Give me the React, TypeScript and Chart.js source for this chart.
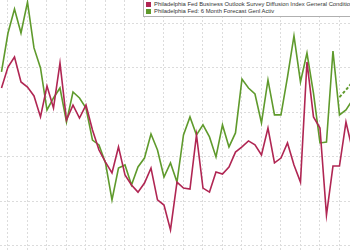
import React, { useEffect, useRef } from "react";
import { Chart, registerables } from "chart.js";

Chart.register(...registerables);

const legendLabels = [
  "Philadelphia Fed Business Outlook Survey Diffusion Index General Conditions",
  "Philadelphia Fed: 6 Month Forecast Genl Activ",
];

const generalConditions = [
  30.8, 40.2, 44.7, 33.5, 31.2, 27.2, 17.8, 31.7, 21.8, 42.0,
  16.4, 23.1, 17.3, 23.1, 11.9, 2.9, -2.5, -7.4, 4.3, -8.3,
  -12.8, -16.0, -11.9, -5.2, -19.5, -21.8, -33.0, -11.5, -14.2, -14.6,
  9.7, -14.2, -16.0, -7.0, -7.9, -4.7, 2.0, 4.3, 7.0, 5.2,
  0.7, 12.8, -2.9, -0.7, 6.1, -3.8, -11.5, 42.5, 17.8, 12.8,
  -26.3, -4.3, -4.3, 15.5, 2.9,
];

const forecastActivity = [
  38.0, 55.5, 66.3, 55.5, 69.4, 48.8, 39.8, 20.9, 26.3, 30.8,
  15.5, 29.0, 26.3, 21.8, 7.4, 5.2, -2.9, -19.5, -5.2, -3.8,
  -12.8, -4.7, -0.7, 10.1, 2.9, -9.2, -2.9, -11.5, 9.7, 17.8,
  9.7, 14.2, 8.8, -0.2, 14.2, 4.3, 10.6, 34.8, 30.8, 28.1,
  15.1, 34.4, 18.7, 18.7, 35.7, 54.2, 33.5, 46.5, 28.5, 6.1,
  6.5, 47.4, 18.7, 20.9, 25.4,
];

const forecastDashed: (number | null)[] = [
  ...Array(52).fill(null), 26.7, 29.9, 33.5,
];

const yTicks = [-40, -20, 0, 20, 40, 60];
const xTicks = [1, 4, 7, 10, 13, 16, 19, 22, 25, 28, 31, 34, 37, 40, 43, 46, 49, 52];

const RED = "#b02653";
const GREEN = "#5f9a2c";

export default function App() {
  const ref = useRef<HTMLCanvasElement | null>(null);

  useEffect(() => {
    if (!ref.current) return;
    const toPts = (arr: (number | null)[]) =>
      arr.map((v, i) => ({ x: i, y: v as number }));
    const chart = new Chart(ref.current, {
      type: "line",
      data: {
        datasets: [
          {
            label: legendLabels[0],
            data: toPts(generalConditions),
            borderColor: RED,
            borderWidth: 1.6,
            pointRadius: 0,
            tension: 0,
          },
          {
            label: legendLabels[1],
            data: toPts(forecastActivity),
            borderColor: GREEN,
            borderWidth: 1.6,
            pointRadius: 0,
            tension: 0,
          },
          {
            label: "forecast",
            data: toPts(forecastDashed),
            borderColor: GREEN,
            borderWidth: 2,
            borderDash: [3, 2],
            pointRadius: 0,
            tension: 0,
            spanGaps: false,
          },
        ],
      },
      options: {
        animation: false,
        responsive: false,
        layout: { padding: 0 },
        plugins: { legend: { display: false }, tooltip: { enabled: false } },
        scales: {
          x: {
            type: "linear",
            min: -0.23,
            max: 53.62,
            afterBuildTicks: (s: any) => {
              s.ticks = xTicks.map((v) => ({ value: v }));
            },
            ticks: { display: false },
            grid: { color: "#dcdcdc", drawTicks: false, lineWidth: 1 },
            border: { display: false, dash: [2, 2] },
          },
          y: {
            type: "linear",
            min: -42.02,
            max: 70.34,
            afterBuildTicks: (s: any) => {
              s.ticks = yTicks.map((v) => ({ value: v }));
            },
            ticks: { display: false },
            grid: { color: "#dcdcdc", drawTicks: false, lineWidth: 1 },
            border: { display: false, dash: [2, 2] },
          },
        },
      },
    });
    return () => chart.destroy();
  }, []);

  return (
    <div
      style={{
        position: "absolute",
        left: 0,
        top: 0,
        width: 350,
        height: 250,
        overflow: "hidden",
        background: "#fff",
      }}
    >
      <canvas ref={ref} width={350} height={250} style={{ display: "block" }} />
      <div
        style={{
          position: "absolute",
          left: 143,
          top: -1,
          width: 230,
          border: "1px solid #b0b0b0",
          background: "#fff",
          padding: "1px 0 1px 2px",
          fontFamily: "Arial, 'Liberation Sans', sans-serif",
          fontSize: 5.85,
          lineHeight: "7px",
          color: "#333",
          whiteSpace: "nowrap",
        }}
      >
        {legendLabels.map((t, i) => (
          <div key={i} style={{ display: "flex", alignItems: "center" }}>
            <span
              style={{
                display: "inline-block",
                width: 5,
                height: 5,
                background: i === 0 ? RED : GREEN,
                marginRight: 3,
              }}
            />
            <span>{t}</span>
          </div>
        ))}
      </div>
    </div>
  );
}
